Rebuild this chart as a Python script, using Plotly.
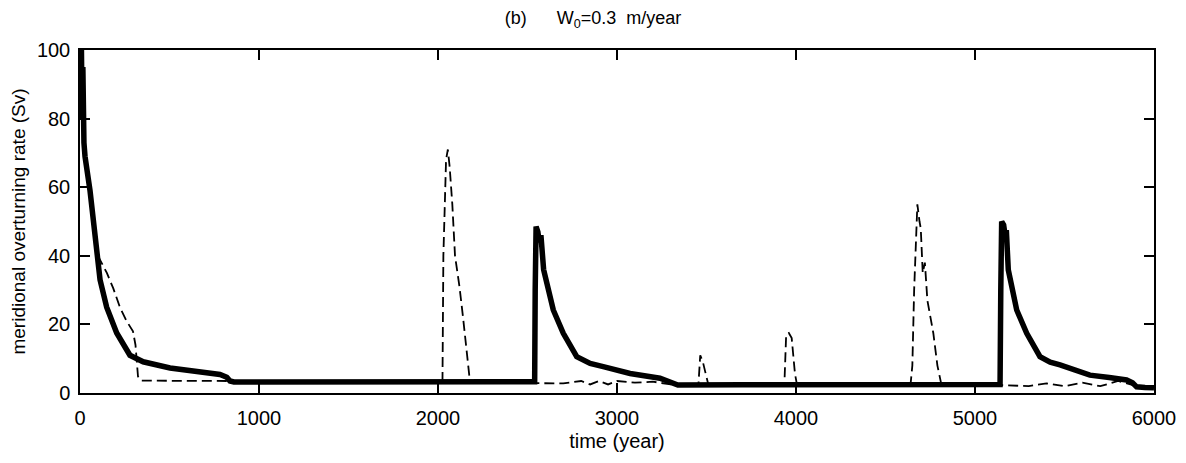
import plotly.graph_objects as go

# solid (thick) series
solid_t = [0, 4, 8, 12, 16, 22, 28, 56, 84, 112, 149, 205, 279, 353, 503, 689, 782, 820, 838, 860,
           1200, 1600, 2000, 2400, 2540, 2543, 2548, 2558, 2565, 2575, 2582, 2590, 2644, 2700, 2775,
           2850, 2923, 3073, 3240, 3290, 3313, 3340, 3700, 4200, 4700, 5140, 5144, 5149, 5160, 5168,
           5175, 5180, 5186, 5233, 5289, 5363, 5420, 5475, 5642, 5750, 5847, 5880, 5903, 5950, 6000]
solid_v = [100, 84, 100, 80, 95, 73, 69, 59, 46.6, 33, 25, 17.5, 11, 9.1, 7.3, 6.2, 5.4, 4.6, 3.5, 3.2,
           3.3, 3.3, 3.4, 3.3, 3.3, 30, 48.5, 47, 44, 46, 40, 36, 24.2, 17.4, 10.6,
           8.6, 7.7, 5.7, 4.3, 3.3, 2.5, 2.3, 2.4, 2.4, 2.5, 2.5, 30, 50, 49, 46,
           47.5, 40, 35.9, 24.2, 17.4, 10.6, 9, 8.2, 5.2, 4.5, 3.8, 3, 1.8, 1.6, 1.5]

# dashed (thin) series
dash_t = [100, 121, 150, 186, 223, 260, 296, 310, 316, 324, 340, 600, 820, 860, 1500, 2000, 2025,
          2030, 2045, 2055, 2065, 2080, 2095, 2120, 2140, 2160, 2175, 2190, 2550, 2700, 2800, 2850,
          2900, 2950, 3000, 3100, 3200, 3300, 3455, 3465, 3480, 3500, 3510, 3935, 3945, 3960, 3976,
          3994, 4005, 4640, 4650, 4660, 4678, 4690, 4697, 4708, 4720, 4734, 4767, 4790, 4810, 5150,
          5300, 5400, 5500, 5600, 5700, 5800, 5900, 6000]
dash_v = [40, 38, 35, 30.5, 25, 21, 18, 14, 10, 4.8, 3.6, 3.5, 3.5, 3, 3.1, 3.1, 3.5,
          40, 68, 71, 66, 55, 40, 31, 22, 12, 5, 3, 3, 2.8, 3.5, 2.5,
          3.5, 2.5, 3.5, 3, 3.3, 2.5, 2.5, 11, 9, 4.7, 2.5, 2.5, 17, 17.5, 16,
          5.7, 2.5, 2.5, 8, 30, 55, 50, 48, 35, 38, 27, 17.5, 8, 3, 2.3,
          2, 2.8, 2, 3, 2, 3.5, 2, 2]

x_ticks = [0, 1000, 2000, 3000, 4000, 5000, 6000]
y_ticks = [0, 20, 40, 60, 80, 100]

fig = go.Figure()
fig.add_trace(go.Scatter(x=dash_t, y=dash_v, mode="lines",
                         line=dict(color="black", width=1.8, dash="10px,5px"),
                         showlegend=False))
fig.add_trace(go.Scatter(x=solid_t, y=solid_v, mode="lines",
                         line=dict(color="black", width=5.5),
                         showlegend=False))

font = "Liberation Sans, Arial, sans-serif"
fig.update_layout(
    width=1170, height=447,
    margin=dict(l=72, r=24, t=42, b=62, autoexpand=False),
    paper_bgcolor="white", plot_bgcolor="white",
    font=dict(family=font, color="black", size=18),
    title=dict(text="(b)&nbsp;&nbsp;&nbsp;&nbsp;&nbsp; W<sub>0</sub>=0.3&nbsp; m/year",
               x=0.5, xanchor="center", y=0.978, yanchor="middle",
               font=dict(size=18, family=font)),
)
fig.update_xaxes(range=[0, 6000], tickvals=x_ticks, ticks="inside", ticklen=10,
                 tickcolor="black", tickwidth=1.5, showline=True, linecolor="black",
                 linewidth=1.5, mirror="ticks", showgrid=False, zeroline=False,
                 ticklabelstandoff=6, automargin=False,
                 tickfont=dict(size=20), title=dict(text="time (year)", font=dict(size=20), standoff=6))
fig.update_yaxes(range=[0, 100], tickvals=y_ticks, ticks="inside", ticklen=10,
                 tickcolor="black", tickwidth=1.5, showline=True, linecolor="black",
                 linewidth=1.5, mirror="ticks", showgrid=False, zeroline=False,
                 ticklabelstandoff=4, automargin=False,
                 tickfont=dict(size=20),
                 title=dict(text="meridional overturning rate (Sv)", font=dict(size=19), standoff=8))

fig.write_html("out.html")
